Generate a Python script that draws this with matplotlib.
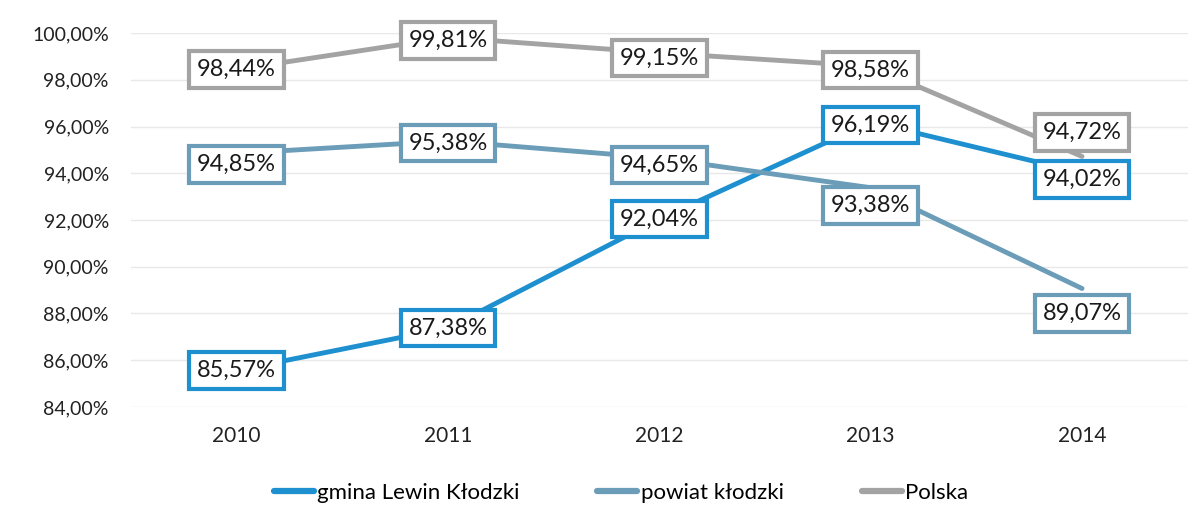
import matplotlib
matplotlib.use("Agg")
import matplotlib.pyplot as plt
from matplotlib.ticker import FuncFormatter

years = ["2010", "2011", "2012", "2013", "2014"]
gmina = [85.57, 87.38, 92.04, 96.19, 94.02]
powiat = [94.85, 95.38, 94.65, 93.38, 89.07]
polska = [98.44, 99.81, 99.15, 98.58, 94.72]

series_names = ["gmina Lewin Kłodzki", "powiat kłodzki", "Polska"]
colors = ["#1e8fcf", "#6b9cb8", "#a3a3a3"]
# label offsets in pixels (positive = down), to mimic reference placement
label_offsets = [[0, 0, 0, 3, 7], [11, 2, 7, 18, 25], [0, 3, 5, 4, -24]]

plt.rcParams['font.family'] = ['Lato', 'DejaVu Sans']

fig = plt.figure(figsize=(11.94, 5.24), dpi=100)
ax = fig.add_axes([0.1097, 0.2233, 0.885, 0.7137])

x = list(range(len(years)))
for vals, name, c, offs in zip([gmina, powiat, polska], series_names, colors, label_offsets):
    ax.plot(x, vals, color=c, lw=3.5, label=name, solid_capstyle='round', zorder=2)
    for xi, v, o in zip(x, vals, offs):
        ax.annotate(f"{v:.2f}%".replace(".", ","), (xi, v), xytext=(0, -o * 0.72),
                    textcoords="offset points", ha="center", va="center",
                    fontsize=17, color="#1a1a1a", zorder=3,
                    bbox=dict(boxstyle="square,pad=0.33", fc="white", ec=c, lw=3))

ax.set_xlim(-0.5, 4.5)
ax.set_ylim(84, 100)
ax.set_yticks(range(84, 101, 2))
ax.yaxis.set_major_formatter(FuncFormatter(lambda v, p: f"{v:.2f}%".replace(".", ",")))
ax.set_xticks(x)
ax.set_xticklabels(years)
ax.grid(axis="y", color="#e8e8e8", lw=1)
ax.set_axisbelow(True)
for s in ax.spines.values():
    s.set_visible(False)
ax.tick_params(axis="y", length=0, labelsize=14, colors="#222222", pad=16)
ax.tick_params(axis="x", length=0, labelsize=15, colors="#222222", pad=14)

leg = fig.legend(loc="center", bbox_to_anchor=(0.52, 0.06), ncol=3, frameon=False,
                 fontsize=16, handlelength=1.8, handletextpad=0.15, columnspacing=3.5)
for h in leg.get_lines():
    h.set_linewidth(4.5)

fig.savefig("out.png", dpi=100)
